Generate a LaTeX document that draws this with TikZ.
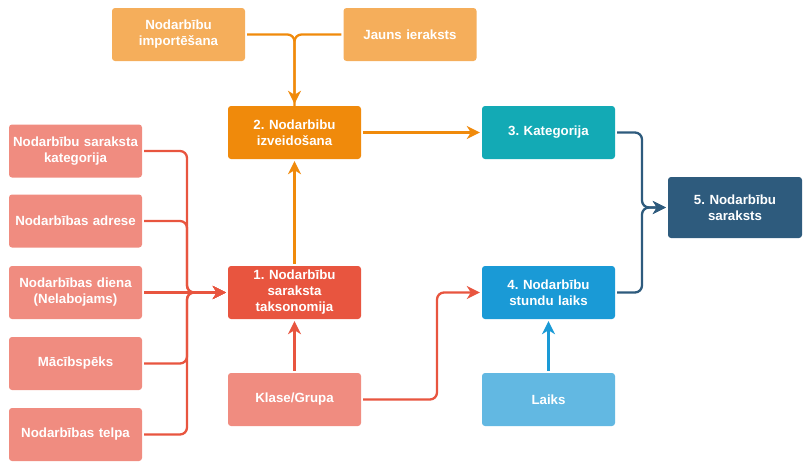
\documentclass[tikz,border=0pt]{standalone}
\usepackage{fontspec}
\setmainfont{Liberation Sans}
\usetikzlibrary{arrows.meta}
\definecolor{cimp}{HTML}{F5AE5B}
\definecolor{corange}{HTML}{F08A0B}
\definecolor{cred}{HTML}{E8553F}
\definecolor{csalmon}{HTML}{F08C80}
\definecolor{cteal}{HTML}{13AAB5}
\definecolor{cblue}{HTML}{1A9AD6}
\definecolor{clight}{HTML}{62B8E2}
\definecolor{cdark}{HTML}{2E5B7D}
\frenchspacing
\begin{document}
\begin{tikzpicture}[x=1pt,y=-1pt,
  box/.style={rounded corners=3pt, minimum width=133pt, minimum height=53pt,
    text width=130pt, align=center, text=white, inner sep=0pt,
    font=\bfseries\fontsize{13.3}{16}\selectfont},
  conn/.style={line width=2.3pt, rounded corners=7pt,
    -{Stealth[length=13pt,width=13pt,inset=4pt]}, shorten >=2pt, shorten <=2pt},
  plain/.style={line width=2.3pt, rounded corners=7pt, shorten <=2pt}]
\useasboundingbox (0,0) rectangle (811,471);

\node[box, fill=cimp] (imp) at (178.5,34.5) {Nodarbību\\importēšana};
\node[box, fill=cimp] (jauns) at (410,34.5) {Jauns ieraksts};
\node[box, fill=corange] (b2) at (294.5,132.5) {2. Nodarbibu\\izveidošana};
\node[box, fill=cteal] (b3) at (548.5,132.5) {3. Kategorija};
\node[box, fill=cdark, minimum width=134pt, minimum height=61pt] (b5) at (735,207.5) {5. Nodarbību\\saraksts};
\node[box, fill=cred] (b1) at (294.5,292.5) {1. Nodarbību\\saraksta\\taksonomija};
\node[box, fill=cblue] (b4) at (548.5,292.5) {4. Nodarbību\\stundu laiks};
\node[box, fill=csalmon] (kl) at (294.5,399.5) {Klase/Grupa};
\node[box, fill=clight] (laiks) at (548.5,399.5) {Laiks};

\node[box, fill=csalmon] (l1) at (75.5,151) {Nodarbību saraksta\\kategorija};
\node[box, fill=csalmon] (l2) at (75.5,221) {Nodarbības adrese};
\node[box, fill=csalmon] (l3) at (75.5,292.5) {Nodarbības diena\\(Nelabojams)};
\node[box, fill=csalmon] (l4) at (75.5,363.5) {Mācībspēks};
\node[box, fill=csalmon] (l5) at (75.5,434.5) {Nodarbības telpa};

\coordinate (jt) at (294.5,34.5);
\coordinate (jl) at (187,292.5);
\coordinate (jk) at (437,292.5);
\coordinate (j5) at (642,207.5);

% top
\draw[plain, corange] (imp.east) -- (jt) -- (b2.north);
\draw[conn, corange] (jauns.west) -- (jt) -- (b2.north);
% 1 -> 2
\draw[conn, corange] (b1.north) -- (b2.south);
% 2 -> 3
\draw[conn, corange] (b2.east) -- (b3.west);
% left inputs
\draw[conn, cred] (l1.east) -| (jl) -- (b1.west);
\draw[conn, cred] (l2.east) -| (jl) -- (b1.west);
\draw[conn, cred] (l3.east) -- (b1.west);
\draw[conn, cred] (l4.east) -| (jl) -- (b1.west);
\draw[conn, cred] (l5.east) -| (jl) -- (b1.west);
% klase
\draw[conn, cred] (kl.north) -- (b1.south);
\draw[conn, cred] (kl.east) -| (jk) -- (b4.west);
% laiks
\draw[conn, cblue] (laiks.north) -- (b4.south);
% to 5
\draw[conn, cdark] (b3.east) -| (j5) -- (b5.west);
\draw[conn, cdark] (b4.east) -| (j5) -- (b5.west);
\end{tikzpicture}
\end{document}
